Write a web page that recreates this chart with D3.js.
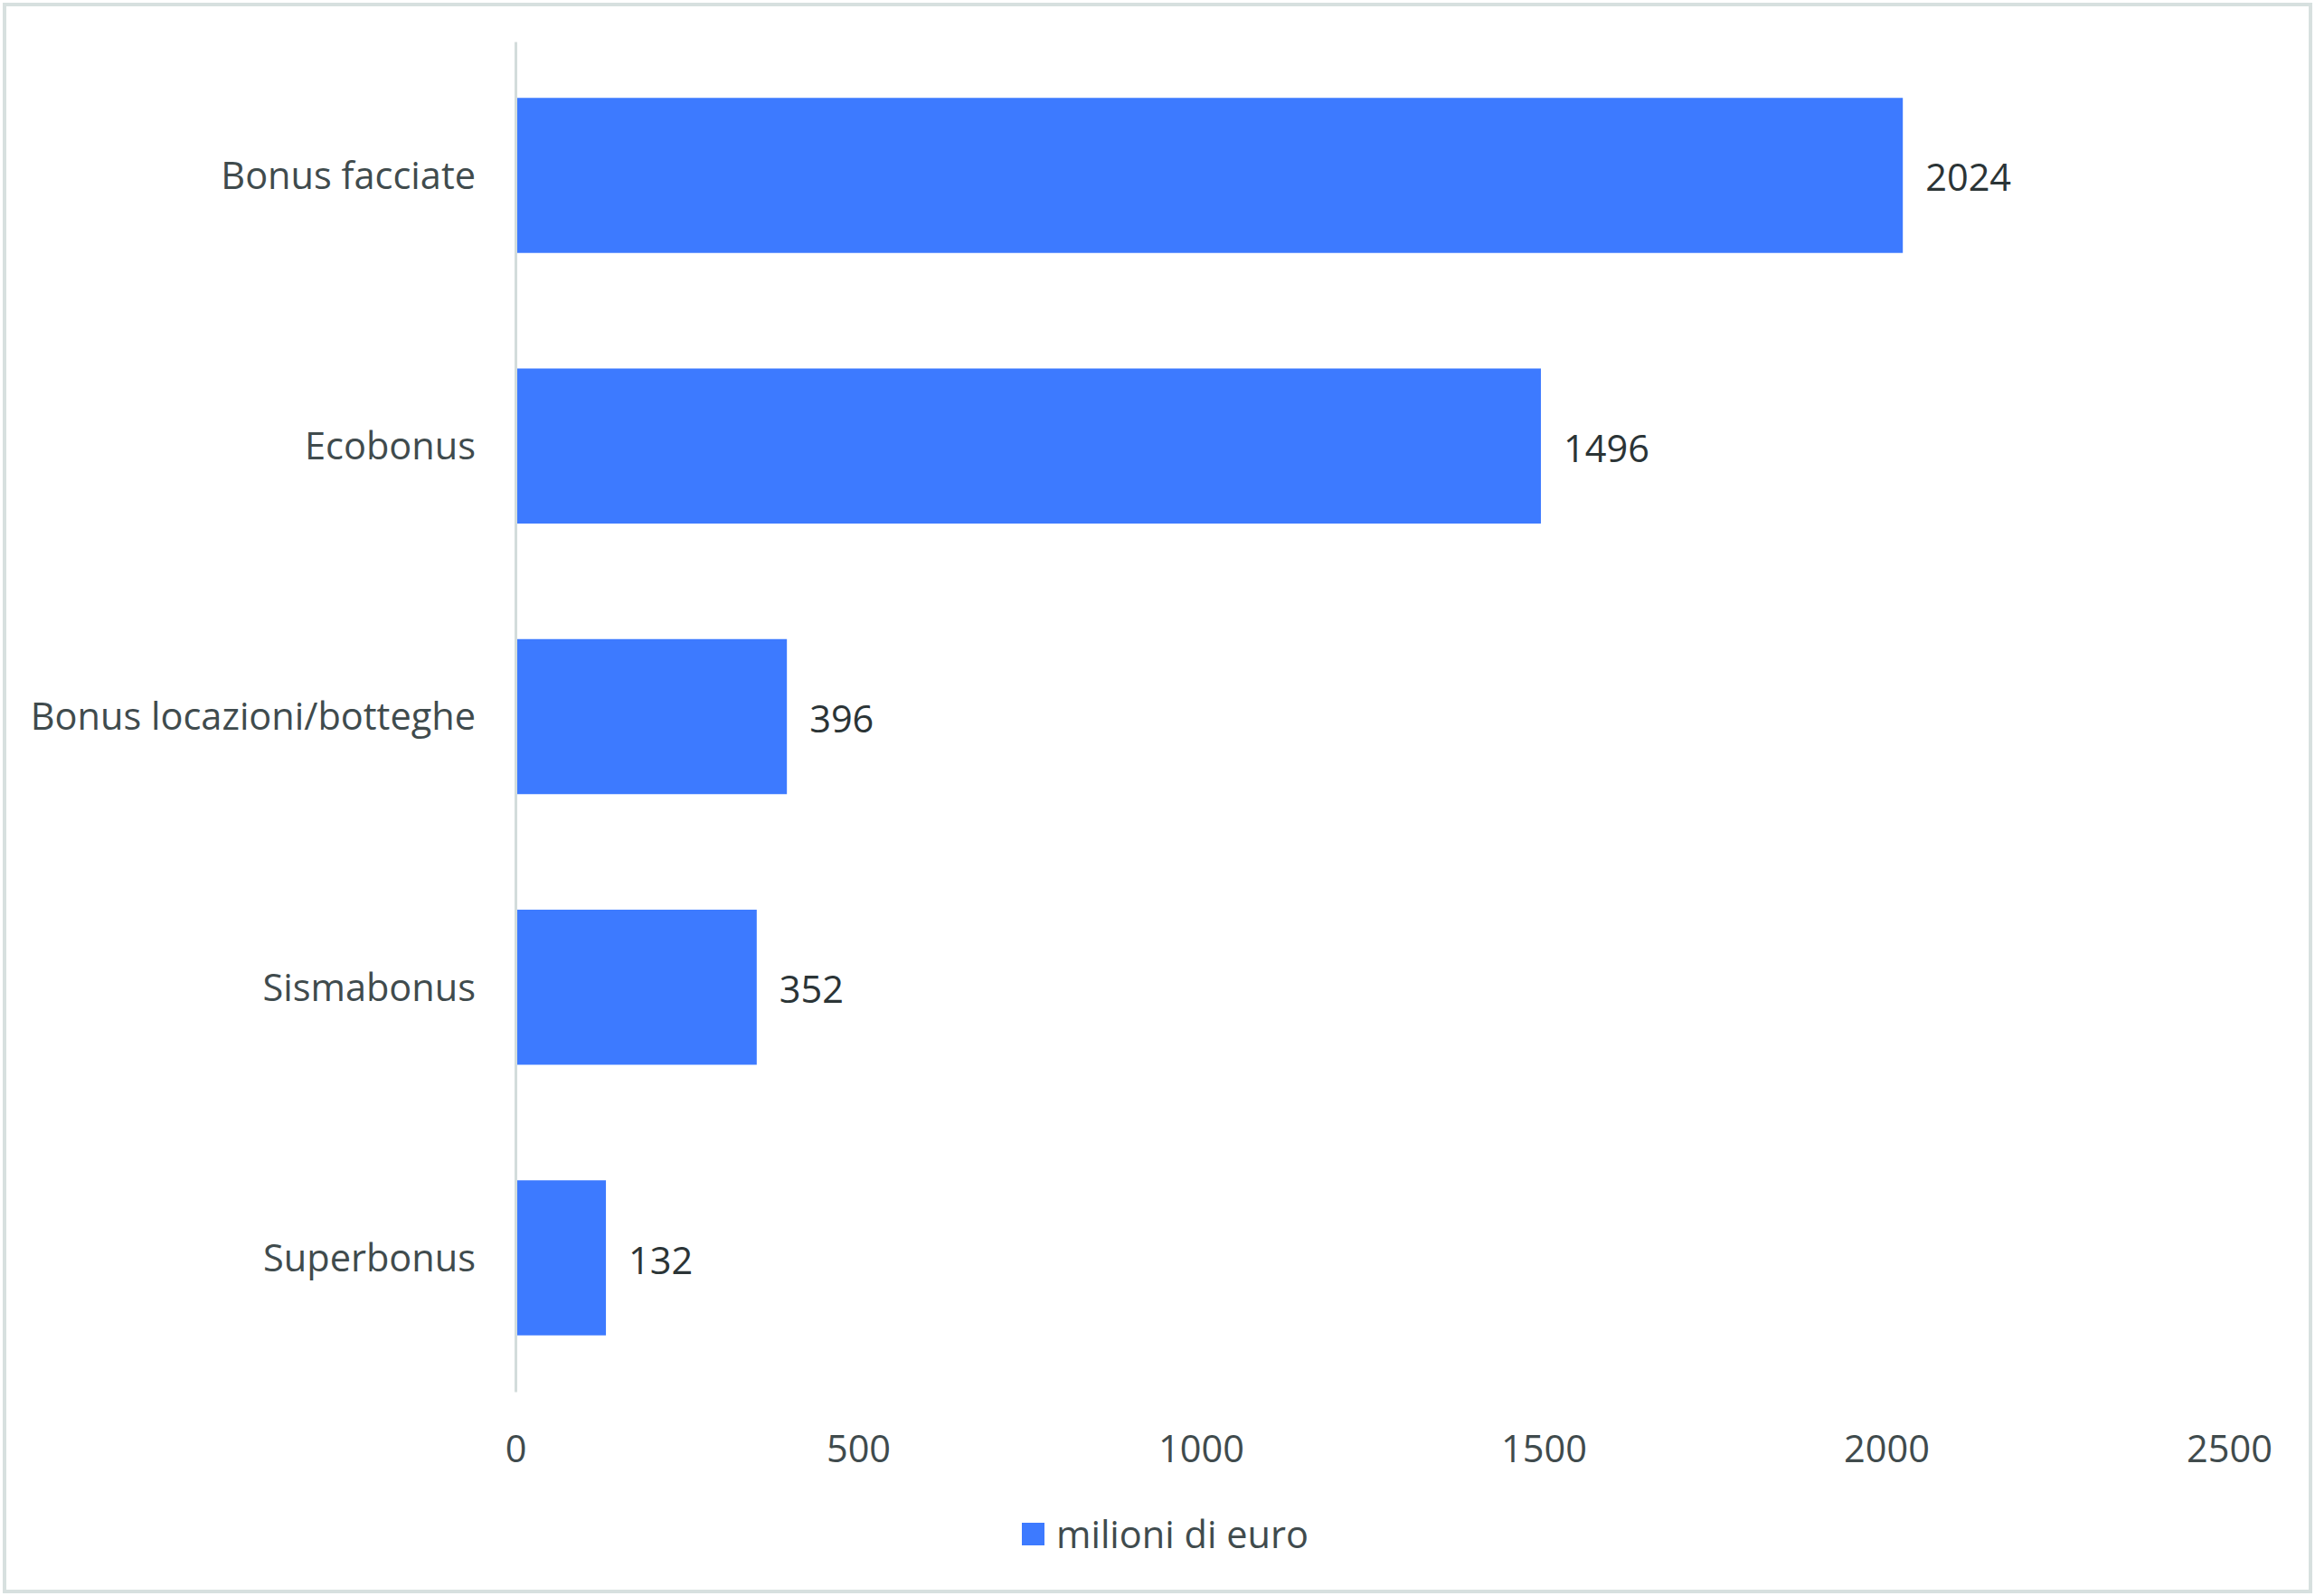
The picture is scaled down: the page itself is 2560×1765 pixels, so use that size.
<!DOCTYPE html>
<html>
<head>
<meta charset="utf-8">
<script src="https://cdn.jsdelivr.net/npm/d3@7"></script>
<style>
  body { margin: 0; background: #fff; }
  svg text { font-family: "Open Sans", sans-serif; }
</style>
</head>
<body>
<div id="chart"></div>
<script>
const WIDTH = 2560;
const HEIGHT = 1765;

const categories = ['Bonus facciate', 'Ecobonus', 'Bonus locazioni/botteghe', 'Sismabonus', 'Superbonus'];
const values = [2024, 1496, 396, 352, 132];
const xTicks = [0, 500, 1000, 1500, 2000, 2500];
const seriesName = 'milioni di euro';

const BAR_COLOR = '#3d7aff';

const svg = d3.select('#chart')
  .append('svg')
  .attr('width', WIDTH)
  .attr('height', HEIGHT);

// outer frame
svg.append('rect')
  .attr('x', 5)
  .attr('y', 5)
  .attr('width', WIDTH - 10)
  .attr('height', HEIGHT - 10)
  .attr('fill', '#fff')
  .attr('stroke', '#d7e0df')
  .attr('stroke-width', 4);

const xScale = d3.scaleLinear()
  .domain([0, 2500])
  .range([570, 2465]);

const yScale = d3.scaleBand()
  .domain(categories)
  .range([46, 1539])
  .paddingInner(0.427)
  .paddingOuter(0.208);

// bars
svg.selectAll('rect.bar')
  .data(categories)
  .enter()
  .append('rect')
  .attr('class', 'bar')
  .attr('x', xScale(0))
  .attr('y', d => yScale(d))
  .attr('width', (d, i) => xScale(values[i]) - xScale(0))
  .attr('height', yScale.bandwidth())
  .attr('fill', BAR_COLOR);

// value labels
svg.selectAll('text.value')
  .data(categories)
  .enter()
  .append('text')
  .attr('class', 'value')
  .attr('x', (d, i) => xScale(values[i]) + 25)
  .attr('y', d => yScale(d) + yScale.bandwidth() / 2 + 1.5)
  .attr('dominant-baseline', 'central')
  .attr('font-size', 41.5)
  .attr('fill', '#2b3436')
  .text((d, i) => values[i]);

// category axis
const yAxis = svg.append('g')
  .attr('transform', `translate(${xScale(0)},0)`)
  .call(d3.axisLeft(yScale).tickSize(0).tickSizeOuter(0).tickPadding(44));

yAxis.select('.domain')
  .attr('stroke', '#d3dcdb')
  .attr('stroke-width', 3);

yAxis.selectAll('text')
  .attr('font-size', 41.5)
  .attr('fill', '#404b4d')
  .attr('dy', '0.36em')
  .style('font-family', '"Open Sans", sans-serif');

// value axis
const xAxis = svg.append('g')
  .attr('transform', 'translate(0,1602)')
  .call(d3.axisBottom(xScale).tickValues(xTicks).tickSize(0).tickPadding(0).tickFormat(d3.format('d')));

xAxis.select('.domain').remove();

xAxis.selectAll('text')
  .attr('font-size', 41.5)
  .attr('fill', '#404b4d')
  .attr('dy', '0.35em')
  .attr('y', 0)
  .style('font-family', '"Open Sans", sans-serif');

// legend
const legend = svg.append('g')
  .attr('transform', 'translate(1130,1684)');

legend.append('rect')
  .attr('width', 25)
  .attr('height', 25)
  .attr('fill', BAR_COLOR);

legend.append('text')
  .attr('x', 38)
  .attr('y', 12)
  .attr('dominant-baseline', 'central')
  .attr('font-size', 41.5)
  .attr('fill', '#404b4d')
  .text(seriesName);
</script>
</body>
</html>
